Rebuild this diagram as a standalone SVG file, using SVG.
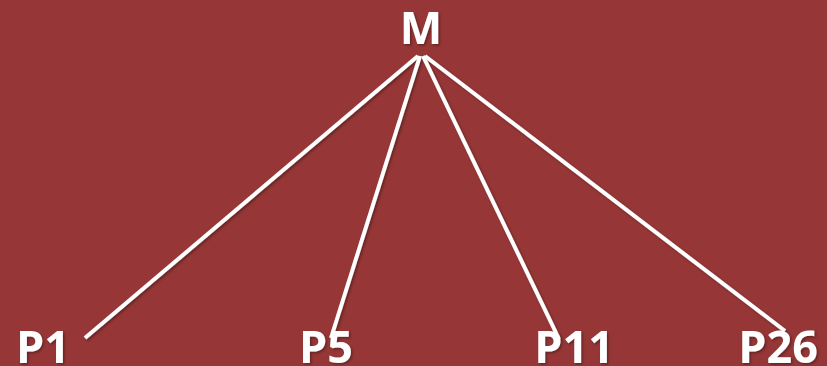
<svg xmlns="http://www.w3.org/2000/svg" width="827" height="366" viewBox="0 0 827 366">
<defs>
<filter id="sh" x="-10%" y="-10%" width="130%" height="130%">
<feDropShadow dx="1.5" dy="1.5" stdDeviation="1" flood-color="#000" flood-opacity="0.35"/>
</filter>
</defs>
<style>
.lbl{font-family:"Open Sans","Liberation Sans",sans-serif;font-weight:bold;font-size:45px;fill:#ffffff;text-anchor:middle}
.edge{stroke:#ffffff;stroke-width:4;fill:none;stroke-linecap:butt}
</style>
<rect x="0" y="0" width="827" height="366" fill="#963636"/>
<g id="connectors" filter="url(#sh)">
<line class="edge" x1="418" y1="56" x2="85" y2="338"/>
<line class="edge" x1="420" y1="56" x2="331" y2="338"/>
<line class="edge" x1="423" y1="56" x2="559" y2="339"/>
<line class="edge" x1="425" y1="56" x2="785" y2="331"/>
</g>
<g id="node-M" filter="url(#sh)"><text class="lbl" x="421" y="44">M</text></g>
<g id="node-P1" filter="url(#sh)"><text class="lbl" x="43" y="363">P1</text></g>
<g id="node-P5" filter="url(#sh)"><text class="lbl" x="326" y="363">P5</text></g>
<g id="node-P11" filter="url(#sh)"><text class="lbl" x="574" y="363">P11</text></g>
<g id="node-P26" filter="url(#sh)"><text class="lbl" x="778" y="363">P26</text></g>
</svg>
